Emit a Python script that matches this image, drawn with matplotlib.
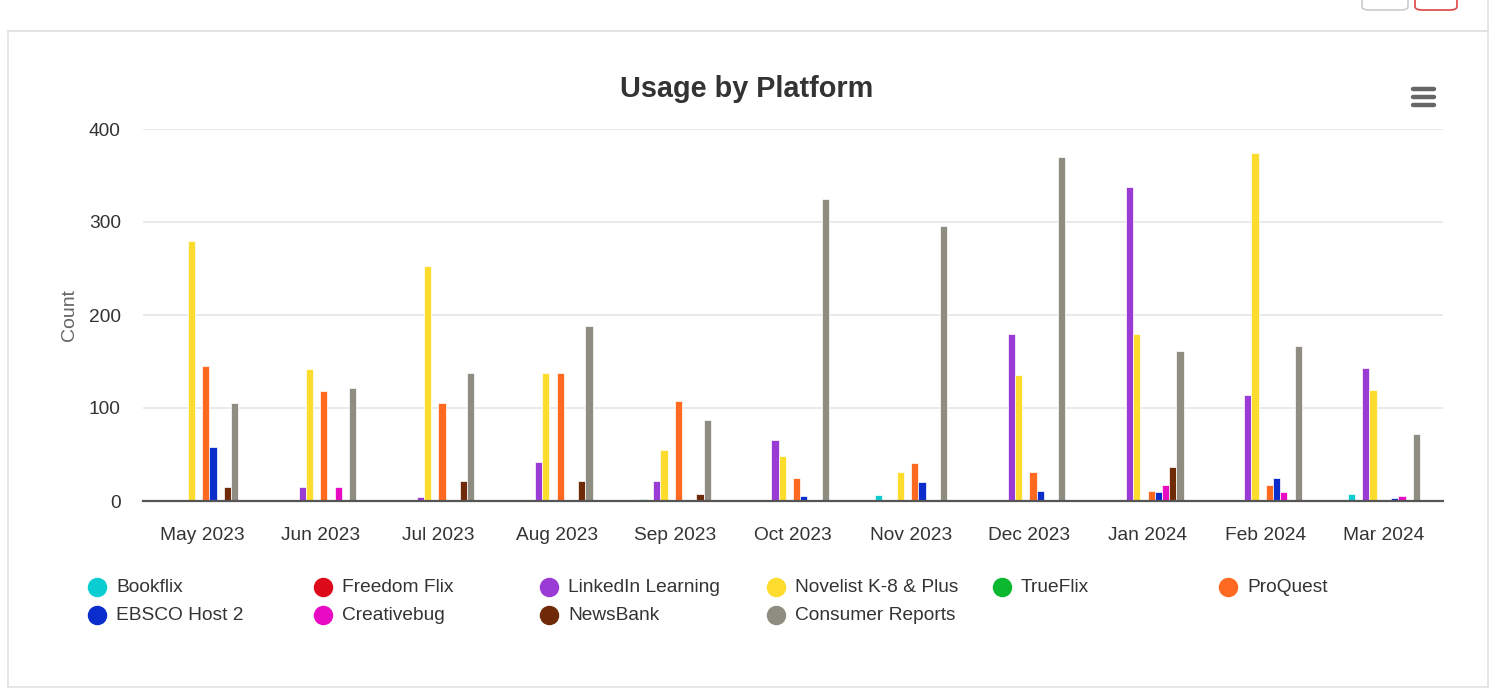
import numpy as np
import matplotlib.pyplot as plt
from matplotlib.patches import FancyBboxPatch
from matplotlib.lines import Line2D

#%% data
months = ["May 2023", "Jun 2023", "Jul 2023", "Aug 2023", "Sep 2023", "Oct 2023",
          "Nov 2023", "Dec 2023", "Jan 2024", "Feb 2024", "Mar 2024"]

bookflix     = [1, 0, 0, 1, 2, 0, 6, 0, 0, 0, 8]
freedom_flix = [0, 0, 0, 0, 0, 0, 0, 0, 0, 0, 0]
linkedin     = [0, 15, 4, 42, 22, 66, 0, 180, 338, 114, 143]
novelist     = [280, 142, 253, 138, 55, 48, 31, 135, 180, 374, 119]
trueflix     = [0, 0, 0, 1, 0, 0, 1, 0, 1, 0, 0]
proquest     = [145, 118, 105, 138, 108, 25, 41, 31, 11, 17, 0]
ebsco        = [58, 0, 0, 1, 0, 5, 20, 11, 10, 25, 3]
creativebug  = [0, 15, 0, 0, 0, 0, 1, 1, 17, 10, 5]
newsbank     = [15, 0, 22, 22, 8, 0, 1, 0, 37, 1, 0]
consumer     = [105, 122, 138, 188, 87, 325, 296, 370, 161, 167, 72]

series_names = ["Bookflix", "Freedom Flix", "LinkedIn Learning", "Novelist K-8 & Plus",
                "TrueFlix", "ProQuest", "EBSCO Host 2", "Creativebug", "NewsBank",
                "Consumer Reports"]
series_values = [bookflix, freedom_flix, linkedin, novelist, trueflix, proquest,
                 ebsco, creativebug, newsbank, consumer]
colors = ["#0ACDD2", "#DC0A1A", "#9A3BD6", "#FDDC2E", "#0BB82F", "#FF6920",
          "#0A2DCB", "#E80BC3", "#6F2B08", "#8F8D81"]

#%% figure
plt.rcParams['font.family'] = ['Liberation Sans', 'DejaVu Sans']

fig = plt.figure(figsize=(14.99, 6.89), dpi=100)
W, H = 1499, 689

def fx(px):
    return px / W

def fy(py):
    return 1 - py / H

ax = fig.add_axes([fx(143), fy(501), fx(1443) - fx(143), fy(129) - fy(501)])

x = np.arange(len(months))
slot = 0.061
for i, (name, vals) in enumerate(zip(series_names, series_values)):
    offs = (i - 4.5) * slot
    ax.bar(x + offs, vals, width=slot, color=colors[i], edgecolor="white",
           linewidth=0.5, zorder=3, label=name)

ax.set_xlim(-0.5, len(months) - 0.5)
ax.set_ylim(0, 400)
ax.set_yticks([0, 100, 200, 300, 400])
ax.set_xticks(x)
ax.set_xticklabels(months)
ax.tick_params(axis="both", length=0, labelsize=13.8, colors="#333333")
ax.tick_params(axis="x", pad=19)
ax.tick_params(axis="y", pad=16)
ax.grid(axis="y", color="#e6e6e6", linewidth=1.2, zorder=0)
for s in ["top", "right", "left"]:
    ax.spines[s].set_visible(False)
ax.spines["bottom"].set_color("#555555")
ax.spines["bottom"].set_linewidth(1.6)
ax.spines["bottom"].set_zorder(4)
ax.set_ylabel("Count", fontsize=14, color="#666666", labelpad=8)

fig.text(fx(747), fy(89), "Usage by Platform", fontsize=20.8, fontweight="bold",
         color="#333333", ha="center", va="center")

# menu icon
for yy in [89, 97, 105]:
    fig.add_artist(Line2D([fx(1413), fx(1434)], [fy(yy), fy(yy)], color="#666666",
                          linewidth=3.2, solid_capstyle="round"))

# legend, filled row by row
for i, name in enumerate(series_names):
    col, row = i % 6, i // 6
    px = 97 + 226.2 * col
    py = 587 + 28 * row
    fig.add_artist(Line2D([fx(px)], [fy(py)], marker="o", markersize=13,
                          color=colors[i], linestyle="none"))
    fig.text(fx(px + 19), fy(py + 1), name, fontsize=13.8, color="#333333",
             ha="left", va="center")

# page frame
frame = "#e3e3e3"
fig.add_artist(Line2D([fx(8), fx(1488)], [fy(31), fy(31)], color=frame, linewidth=1.5))
fig.add_artist(Line2D([fx(7.5), fx(7.5)], [fy(31), fy(687)], color=frame, linewidth=1.2))
fig.add_artist(Line2D([fx(1488), fx(1488)], [fy(0), fy(687)], color=frame, linewidth=1.2))
fig.add_artist(Line2D([fx(7.5), fx(1488)], [fy(687), fy(687)], color=frame, linewidth=1.2))

# buttons cut off at the top
fig.add_artist(FancyBboxPatch((fx(1362), fy(10)), fx(46), fy(0) - fy(10) + 0.02,
                              boxstyle="round,pad=0,rounding_size=0.005",
                              facecolor="white", edgecolor="#cccccc", linewidth=1.2))
fig.add_artist(FancyBboxPatch((fx(1415), fy(10)), fx(42), fy(0) - fy(10) + 0.02,
                              boxstyle="round,pad=0,rounding_size=0.005",
                              facecolor="white", edgecolor="#dd4444", linewidth=1.2))

fig.savefig("out.png", dpi=100, facecolor="white")
